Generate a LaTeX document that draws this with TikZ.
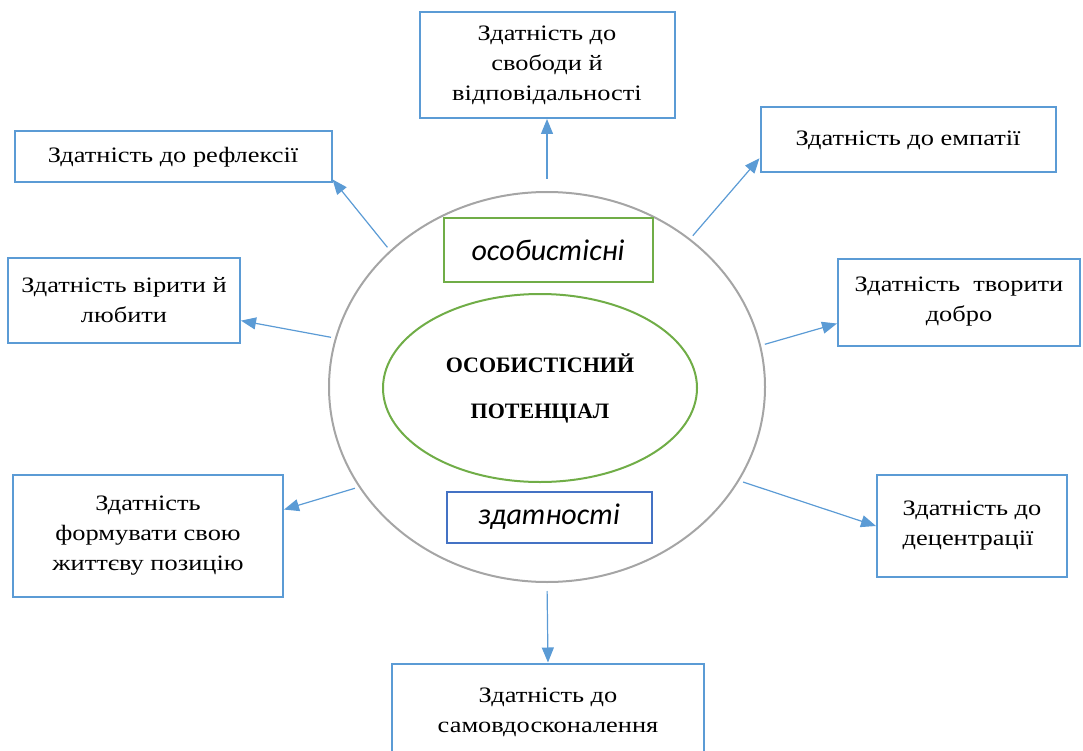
\documentclass[tikz,border=0pt]{standalone}
\usepackage{fontspec}
\setmainfont{Liberation Serif}[FakeStretch=1.2]
\newfontfamily\boldserif{Liberation Serif}
\newfontfamily\calibri{Carlito}
\usetikzlibrary{arrows.meta,shapes.geometric}
\definecolor{boxblue}{HTML}{5B9BD5}
\definecolor{darkblue}{HTML}{4472C4}
\definecolor{leafgreen}{HTML}{70AD47}
\definecolor{ringgray}{HTML}{A5A5A5}

\begin{document}
\begin{tikzpicture}[x=1pt,y=-1pt,semithick]
  \tikzstyle{ability}=[draw=boxblue,line width=2pt,fill=white,align=center,inner sep=0pt,
                       font=\fontsize{22}{30}\selectfont]
  \tikzstyle{link}=[draw=boxblue,line width=1.2pt,shorten <=4pt,-{Triangle[length=15pt,width=12pt]}]
  \tikzstyle{label}=[line width=2pt,font=\calibri\itshape\fontsize{30}{34}\selectfont]

  \useasboundingbox (0,0) rectangle (1083,751);

  % ring and core
  \node[ellipse,draw=ringgray,line width=2pt,minimum width=436pt,minimum height=390pt] (outer) at (547,387) {};
  \node[ellipse,draw=leafgreen,line width=2pt,minimum width=314pt,minimum height=188pt,align=center,
        font=\boldserif\bfseries\fontsize{22}{46}\selectfont] (core) at (540,388) {ОСОБИСТІСНИЙ\\ПОТЕНЦІАЛ};
  \node[label,draw=leafgreen,minimum width=209pt,minimum height=63pt] (personal) at (548,250) {особистісні};
  \node[label,draw=darkblue,minimum width=205pt,minimum height=51pt] (skills) at (549,517) {здатності};

  % abilities round the ring
  \node[ability,minimum width=255pt,minimum height=106pt] (free)    at (547,65)  {Здатність до\\свободи й\\відповідальності};
  \node[ability,minimum width=317pt,minimum height=51pt]  (refl)    at (173,157) {Здатність до рефлексії};
  \node[ability,minimum width=295pt,minimum height=65pt]  (emp)     at (908,140) {Здатність до емпатії};
  \node[ability,minimum width=232pt,minimum height=85pt]  (believe) at (124,300) {Здатність вірити й\\любити};
  \node[ability,minimum width=242pt,minimum height=87pt]  (good)    at (959,302) {Здатність\ \ творити\\добро};
  \node[ability,minimum width=270pt,minimum height=122pt] (life)    at (148,536) {Здатність\\формувати свою\\життєву позицію};
  \node[ability,minimum width=190pt,minimum height=102pt,align=left] (decent) at (972,526) {Здатність до\\децентрації};
  \node[ability,minimum width=312pt,minimum height=97pt]  (self)    at (548,712) {Здатність до\\самовдосконалення};

  \path (outer.north) edge [link,shorten <=12pt] (free.south)
        (outer.139)   edge [link] (refl.-8)
        (outer.46)    edge [link] (emp.187)
        (outer.167)   edge [link] (believe.-10)
        (outer.11)    edge [link] (good.190)
        (outer.208)   edge [link] (life.11)
        (outer.334)   edge [link] (decent.west)
        (outer.south) edge [link,shorten <=8pt] (self.north);
\end{tikzpicture}
\end{document}
